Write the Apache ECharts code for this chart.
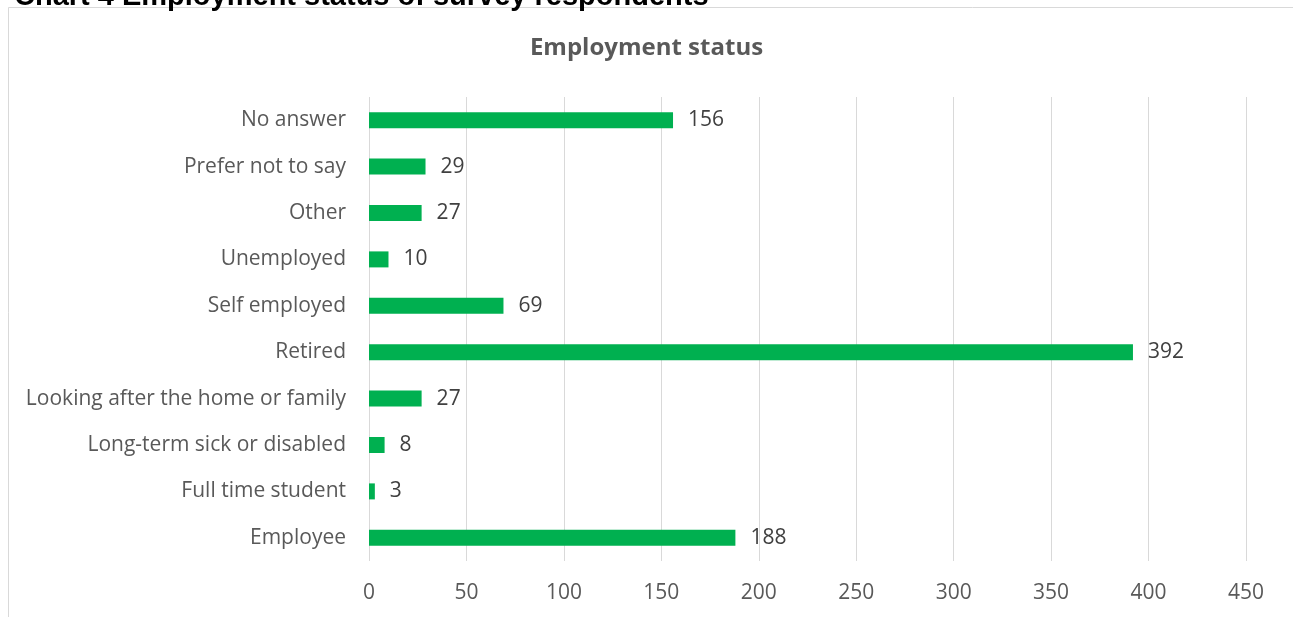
<!DOCTYPE html>
<html>
<head>
<meta charset="utf-8">
<script src="https://cdn.jsdelivr.net/npm/echarts@6/dist/echarts.min.js"></script>
<style>html,body{margin:0;padding:0;background:#fff;}#c{width:1293px;height:617px;}</style>
</head>
<body>
<div id="c"></div>
<script>
const categories = ["Employee","Full time student","Long-term sick or disabled","Looking after the home or family","Retired","Self employed","Unemployed","Other","Prefer not to say","No answer"];
const values = [188,3,8,27,392,69,10,27,29,156];
const axisMin = 0, axisMax = 450, axisInterval = 50;

const chart = echarts.init(document.getElementById('c'), null, {renderer:'canvas'});
chart.setOption({
  animation:false,
  backgroundColor:'#fff',
  title:{
    text:'Employment status', left:'center', top:31,
    textStyle:{fontFamily:'Open Sans', fontWeight:'bold', fontSize:24, color:'#595959'}
  },
  graphic:[
    {type:'rect', shape:{x:8.5,y:7.5,width:1400,height:700}, style:{fill:'none', stroke:'#d9d9d9', lineWidth:1}, silent:true, z:-1},
    {type:'text', x:14, y:-18, style:{text:'Chart 4 Employment status of survey respondents', font:'bold 29px "Liberation Sans", Arial', fill:'#000', textVerticalAlign:'top'}}
  ],
  grid:{left:369, right:47, top:97, bottom:56, containLabel:false},
  xAxis:{
    type:'value', min:axisMin, max:axisMax, interval:axisInterval,
    axisLine:{show:false}, axisTick:{show:false},
    splitLine:{lineStyle:{color:'#d9d9d9', width:1}},
    axisLabel:{margin:22, fontFamily:'Open Sans', fontSize:21, color:'#595959'}
  },
  yAxis:{
    type:'category', data:categories,
    axisLine:{show:false}, axisTick:{show:false},
    axisLabel:{margin:23, fontFamily:'Open Sans', fontSize:21, color:'#595959', padding:[3,0,0,0]}
  },
  series:[{
    type:'bar', data:values, barWidth:16,
    itemStyle:{color:'#00B050'},
    label:{show:true, position:'right', distance:15, fontFamily:'Open Sans', fontSize:21, color:'#404040', padding:[3,0,0,0]}
  }]
});
</script>
</body>
</html>
